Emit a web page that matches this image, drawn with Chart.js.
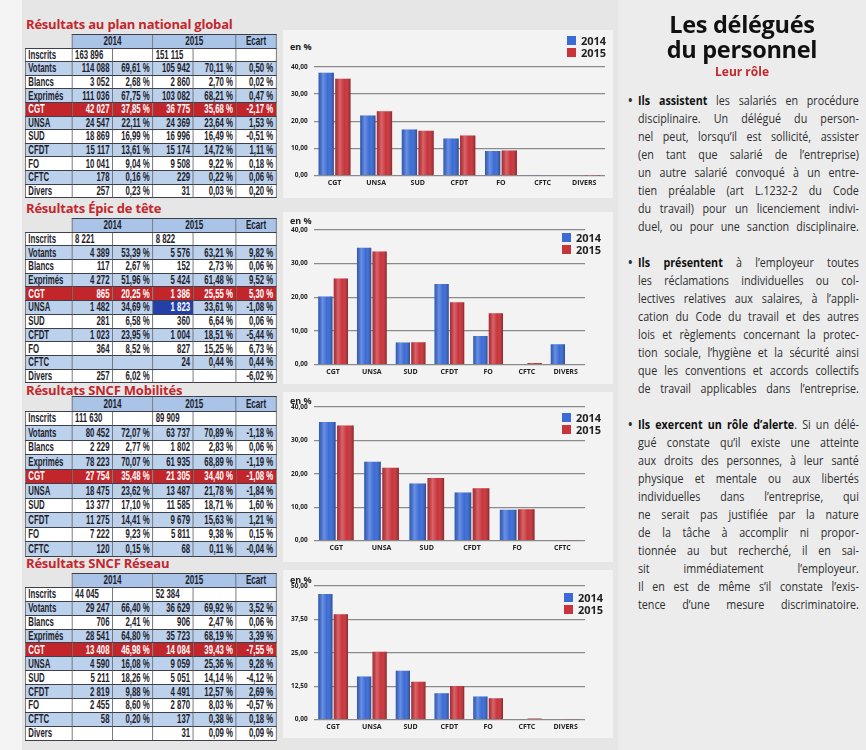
<!DOCTYPE html>
<html lang="fr">
<head>
<meta charset="utf-8">
<script src="https://cdn.jsdelivr.net/npm/chart.js@4.4.1/dist/chart.umd.min.js"></script>
<style>
  html, body { margin: 0; padding: 0; }
  body { width: 866px; height: 750px; position: relative; overflow: hidden;
         background: #e6e6e6; font-family: "Open Sans", sans-serif; }
  .strip { position: absolute; left: 0; top: 0; width: 22px; height: 750px; background: #f4f4f4; }
  .titre { position: absolute; left: 26px; color: #c3272d; font: bold 13px "Open Sans", sans-serif; letter-spacing: -0.2px; }
  table.res { position: absolute; left: 25px; width: 386px; border-collapse: collapse; table-layout: fixed;
              transform: scaleX(0.65); transform-origin: left top;
              font-family: "Liberation Sans", Arial, sans-serif; font-weight: bold; font-size: 12px; color: #1d1d2b; }
  table.res td { border: 1px solid #3f3f4a; border-left-width: 1.5px; border-right-width: 1.5px; padding: 0 4px; text-align: right; white-space: nowrap; background: #fff; line-height: 1; overflow: hidden; }
  table.res td.lab { text-align: left; }
  table.res td.left { text-align: left; }
  table.res tr.head td { background: #a9c4e6; text-align: center; font-size: 12.5px; }
  table.res tr.head td.blank { background: transparent; border: none; }
  table.res tr.blue td { background: #bcd1ec; }
  table.res tr.red td { background: #c2262b; color: #fff; }
  table.res td.hl { background: #2440a8 !important; color: #fff; }
  .panel { position: absolute; left: 283px; width: 330px; background: #f3f3f3; }
  .box { position: absolute; left: 285px; }
  .enp { position: absolute; left: 290px; font: bold 9px "Open Sans", sans-serif; color: #222; }
  .leg { position: absolute; font: bold 11px "Open Sans", sans-serif; color: #222; line-height: 12px; }
  .leg span.sq { display: inline-block; width: 9px; height: 9px; margin-right: 5px; }
  .col { position: absolute; left: 618px; top: 0; width: 248px; height: 750px; background: #ececec; }
  .h1 { position: absolute; left: 618px; width: 248px; text-align: center; font: bold 23.5px "Open Sans", sans-serif; color: #111; line-height: 25px; letter-spacing: -0.3px; }
  .role { position: absolute; left: 618px; width: 248px; text-align: center; top: 63px; font: bold 12px "Open Sans", sans-serif; color: #c3272d; }
  .para { position: absolute; left: 638px; width: 251px; transform: scaleX(0.88); transform-origin: left top;
          font: 12.2px "Open Sans", sans-serif; color: #2e2e2e; }
  .para div { text-align: justify; text-align-last: justify; height: 18px; line-height: 18px; white-space: nowrap; }
  .para b { color: #111; }
  .bul { position: absolute; left: -11px; line-height: 18px; font-weight: bold; }
</style>
</head>
<body>
<div class="strip"></div>

<script>
// rangées des tableaux
const rowLabels = ["Inscrits", "Votants", "Blancs", "Exprimés", "CGT", "UNSA", "SUD", "CFDT", "FO", "CFTC", "Divers"];
const chartLabels = ["CGT", "UNSA", "SUD", "CFDT", "FO", "CFTC", "DIVERS"];

// Résultats au plan national global
const natVoix2014 = [163896, 114088, 3052, 111036, 42027, 24547, 18869, 15117, 10041, 178, 257];
const natPct2014  = [null, 69.61, 2.68, 67.75, 37.85, 22.11, 16.99, 13.61, 9.04, 0.16, 0.23];
const natVoix2015 = [151115, 105942, 2860, 103082, 36775, 24369, 16996, 15174, 9508, 229, 31];
const natPct2015  = [null, 70.11, 2.70, 68.21, 35.68, 23.64, 16.49, 14.72, 9.22, 0.22, 0.03];
const natEcart    = [null, 0.50, 0.02, 0.47, -2.17, 1.53, -0.51, 1.11, 0.18, 0.06, 0.20];

// Résultats Épic de tête
const epicVoix2014 = [8221, 4389, 117, 4272, 865, 1482, 281, 1023, 364, null, 257];
const epicPct2014  = [null, 53.39, 2.67, 51.96, 20.25, 34.69, 6.58, 23.95, 8.52, null, 6.02];
const epicVoix2015 = [8822, 5576, 152, 5424, 1386, 1823, 360, 1004, 827, 24, null];
const epicPct2015  = [null, 63.21, 2.73, 61.48, 25.55, 33.61, 6.64, 18.51, 15.25, 0.44, null];
const epicEcart    = [null, 9.82, 0.06, 9.52, 5.30, -1.08, 0.06, -5.44, 6.73, 0.44, -6.02];

// Résultats SNCF Mobilités (pas de ligne Divers)
const mobVoix2014 = [111630, 80452, 2229, 78223, 27754, 18475, 13377, 11275, 7222, 120];
const mobPct2014  = [null, 72.07, 2.77, 70.07, 35.48, 23.62, 17.10, 14.41, 9.23, 0.15];
const mobVoix2015 = [89909, 63737, 1802, 61935, 21305, 13487, 11585, 9679, 5811, 68];
const mobPct2015  = [null, 70.89, 2.83, 68.89, 34.40, 21.78, 18.71, 15.63, 9.38, 0.11];
const mobEcart    = [null, -1.18, 0.06, -1.19, -1.08, -1.84, 1.60, 1.21, 0.15, -0.04];

// Résultats SNCF Réseau
const resVoix2014 = [44045, 29247, 706, 28541, 13408, 4590, 5211, 2819, 2455, 58, null];
const resPct2014  = [null, 66.40, 2.41, 64.80, 46.98, 16.08, 18.26, 9.88, 8.60, 0.20, null];
const resVoix2015 = [52384, 36629, 906, 35723, 14084, 9059, 5051, 4491, 2870, 137, 31];
const resPct2015  = [null, 69.92, 2.47, 68.19, 39.43, 25.36, 14.14, 12.57, 8.03, 0.38, 0.09];
const resEcart    = [null, 3.52, 0.06, 3.39, -7.55, 9.28, -4.12, 2.69, -0.57, 0.18, 0.09];

// ticks de l'axe des y
const ticks40 = [0, 10, 20, 30, 40];
const ticks50 = [0, 12.5, 25, 37.5, 50];

const BLEU = "#3a6bd6";
const ROUGE = "#c9333a";

function fmtNb(n) {
    if (n === null || n === undefined) return "";
    return String(n).replace(/\B(?=(\d{3})+(?!\d))/g, " ");
}
function fmtPct(v) {
    if (v === null || v === undefined) return "";
    return v.toFixed(2).replace(".", ",") + " %";
}

// construit un tableau HTML (dessiné en largeur 386 puis compressé à 0.65)
function buildTable(titre, titleTop, top, rowH, v14, p14, v15, p15, ec, highlight) {
    const t = document.createElement("div");
    t.className = "titre";
    t.style.top = titleTop + "px";
    t.textContent = titre;
    document.body.appendChild(t);

    const tab = document.createElement("table");
    tab.className = "res";
    tab.style.top = top + "px";
    let html = '<colgroup><col style="width:72px"><col style="width:62px"><col style="width:62px"><col style="width:62px"><col style="width:66px"><col style="width:62px"></colgroup>';
    html += '<tr class="head" style="height:' + rowH + 'px"><td class="blank"></td><td colspan="2">2014</td><td colspan="2">2015</td><td>Ecart</td></tr>';
    for (let i = 0; i < v14.length; i++) {
        let cls = "";
        if (i === 4) cls = "red";
        else if (i % 2 === 1) cls = "blue";
        const al = i === 0 ? ' class="left"' : "";
        const hl = (highlight === i) ? ' class="hl"' : al;
        html += '<tr class="' + cls + '" style="height:' + rowH + 'px">' +
            '<td class="lab">' + rowLabels[i] + '</td>' +
            '<td' + al + '>' + fmtNb(v14[i]) + '</td>' +
            '<td>' + fmtPct(p14[i]) + '</td>' +
            '<td' + hl + '>' + fmtNb(v15[i]) + '</td>' +
            '<td>' + fmtPct(p15[i]) + '</td>' +
            '<td>' + fmtPct(ec[i]) + '</td></tr>';
    }
    tab.innerHTML = html;
    document.body.appendChild(tab);
}

buildTable("Résultats au plan national global", 15, 34, 13.6, natVoix2014, natPct2014, natVoix2015, natPct2015, natEcart);
buildTable("Résultats Épic de tête", 199, 218, 13.7, epicVoix2014, epicPct2014, epicVoix2015, epicPct2015, epicEcart, 5);
buildTable("Résultats SNCF Mobilités", 381, 396, 14.5, mobVoix2014, mobPct2014, mobVoix2015, mobPct2015, mobEcart);
buildTable("Résultats SNCF Réseau", 554, 573, 13.9, resVoix2014, resPct2014, resVoix2015, resPct2015, resEcart);

// effet cylindre sur les barres
const cylindre = {
    id: "cylindre",
    afterDatasetsDraw(chart) {
        const c = chart.ctx;
        chart.data.datasets.forEach((ds, di) => {
            chart.getDatasetMeta(di).data.forEach(bar => {
                const p = bar.getProps(["x", "y", "base", "width"], true);
                if (!isFinite(p.y) || Math.abs(p.base - p.y) < 0.5) return;
                const l = p.x - p.width / 2, r = p.x + p.width / 2;
                const g = c.createLinearGradient(l, 0, r, 0);
                g.addColorStop(0, "rgba(0,0,0,0.15)");
                g.addColorStop(0.3, "rgba(255,255,255,0.25)");
                g.addColorStop(0.6, "rgba(255,255,255,0)");
                g.addColorStop(1, "rgba(0,0,0,0.3)");
                c.save();
                c.fillStyle = g;
                c.fillRect(l, p.y, p.width, p.base - p.y);
                c.restore();
            });
        });
    }
};

function makeChart(panelTop, panelH, boxTop, boxH, boxW, labels, d14, d15, ticks, enTop, legTop, legLeft) {
    const panel = document.createElement("div");
    panel.className = "panel";
    panel.style.top = panelTop + "px";
    panel.style.height = panelH + "px";
    document.body.appendChild(panel);

    const box = document.createElement("div");
    box.className = "box";
    box.style.top = boxTop + "px";
    box.style.width = boxW + "px";
    box.style.height = boxH + "px";
    const cv = document.createElement("canvas");
    box.appendChild(cv);
    document.body.appendChild(box);

    const en = document.createElement("div");
    en.className = "enp";
    en.style.top = enTop + "px";
    en.textContent = "en %";
    document.body.appendChild(en);

    const leg = document.createElement("div");
    leg.className = "leg";
    leg.style.left = legLeft + "px";
    leg.style.top = legTop + "px";
    leg.innerHTML = '<div><span class="sq" style="background:' + BLEU + '"></span>2014</div>' +
                    '<div><span class="sq" style="background:' + ROUGE + '"></span>2015</div>';
    document.body.appendChild(leg);

    new Chart(cv, {
        type: "bar",
        data: {
            labels: labels,
            datasets: [
                { label: "2014", data: d14, backgroundColor: BLEU, borderWidth: 0 },
                { label: "2015", data: d15, backgroundColor: ROUGE, borderWidth: 0 }
            ]
        },
        options: {
            responsive: true,
            maintainAspectRatio: false,
            animation: false,
            layout: { padding: { top: 4, right: 0 } },
            datasets: { bar: { categoryPercentage: 0.8, barPercentage: 0.92 } },
            plugins: { legend: { display: false }, tooltip: { enabled: false } },
            scales: {
                x: {
                    grid: { display: false, drawTicks: false },
                    border: { display: false },
                    ticks: { color: "#222", font: { family: "Open Sans", size: 7, weight: "bold" }, maxRotation: 0, autoSkip: false, padding: 3 }
                },
                y: {
                    min: ticks[0],
                    max: ticks[ticks.length - 1],
                    afterBuildTicks: axis => { axis.ticks = ticks.map(v => ({ value: v })); },
                    grid: { color: "#8a8a8a", lineWidth: 1.3, drawTicks: false },
                    border: { display: false },
                    ticks: {
                        color: "#222", padding: 6,
                        font: { family: "Open Sans", size: 6.5, weight: "bold" },
                        callback: v => v.toFixed(2).replace(".", ",")
                    }
                }
            }
        },
        plugins: [cylindre]
    });
}

makeChart(30, 168, 57, 133, 320, chartLabels, natPct2014.slice(4), natPct2015.slice(4), ticks40, 40, 35, 567);
makeChart(212, 172, 220, 159, 300, chartLabels, epicPct2014.slice(4), epicPct2015.slice(4), ticks40, 214, 232, 562);
makeChart(392, 170, 397, 158, 300, chartLabels.slice(0, 6), mobPct2014.slice(4), mobPct2015.slice(4), ticks40, 394, 412, 562);
makeChart(570, 168, 576, 158, 300, chartLabels, resPct2014.slice(4), resPct2015.slice(4), ticks50, 573, 592, 564);
</script>

<div class="col"></div>
<div class="h1" style="top:12px">Les délégués</div>
<div class="h1" style="top:37px">du personnel</div>
<div class="role">Leur rôle</div>

<div class="para" style="top:92px">
  <span class="bul" style="top:0">•</span>
  <div><b>Ils assistent</b> les salariés en procédure</div>
  <div>disciplinaire. Un délégué du person-</div>
  <div>nel peut, lorsqu’il est sollicité, assister</div>
  <div>(en tant que salarié de l’entreprise)</div>
  <div>un autre salarié convoqué à un entre-</div>
  <div>tien préalable (art L.1232-2 du Code</div>
  <div>du travail) pour un licenciement indivi-</div>
  <div>duel, ou pour une sanction disciplinaire.</div>
</div>

<div class="para" style="top:254px">
  <span class="bul" style="top:0">•</span>
  <div><b>Ils présentent</b> à l’employeur toutes</div>
  <div>les réclamations individuelles ou col-</div>
  <div>lectives relatives aux salaires, à l’appli-</div>
  <div>cation du Code du travail et des autres</div>
  <div>lois et règlements concernant la protec-</div>
  <div>tion sociale, l’hygiène et la sécurité ainsi</div>
  <div>que les conventions et accords collectifs</div>
  <div>de travail applicables dans l’entreprise.</div>
</div>

<div class="para" style="top:416px">
  <span class="bul" style="top:0">•</span>
  <div><b>Ils exercent un rôle d’alerte</b>. Si un délé-</div>
  <div>gué constate qu’il existe une atteinte</div>
  <div>aux droits des personnes, à leur santé</div>
  <div>physique et mentale ou aux libertés</div>
  <div>individuelles dans l’entreprise, qui</div>
  <div>ne serait pas justifiée par la nature</div>
  <div>de la tâche à accomplir ni propor-</div>
  <div>tionnée au but recherché, il en sai-</div>
  <div>sit immédiatement l’employeur.</div>
  <div>Il en est de même s’il constate l’exis-</div>
  <div>tence d’une mesure discriminatoire.</div>
</div>
</body>
</html>
